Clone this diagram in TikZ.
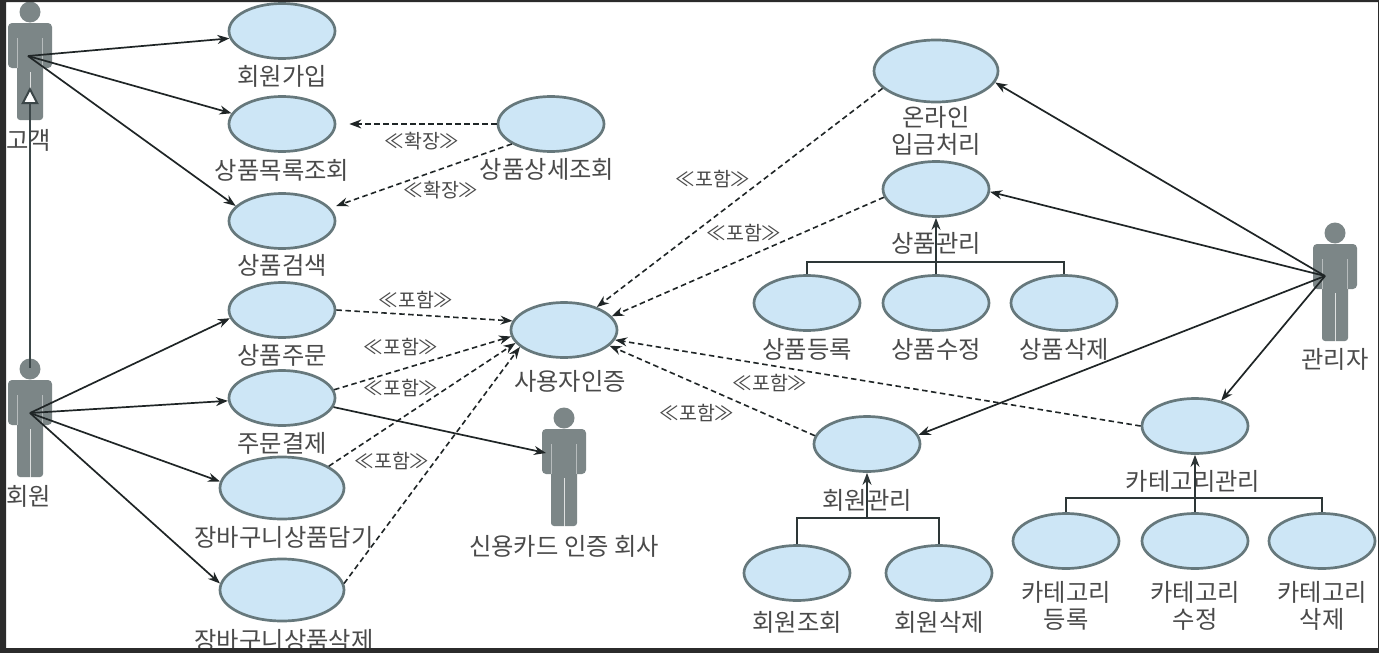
\documentclass[tikz,border=0pt]{standalone}
\usepackage{fontspec}
\setmainfont{Noto Sans CJK KR}
\usetikzlibrary{shapes.geometric,arrows.meta}
\definecolor{frameC}{HTML}{2B2B2B}
\definecolor{ucFill}{HTML}{CDE6F6}
\definecolor{ucLine}{HTML}{66787C}
\definecolor{actorC}{HTML}{7C8687}
\definecolor{txtC}{HTML}{4A4A4A}
\definecolor{lineC}{HTML}{1F2526}
\tikzset{
  uc/.style={ellipse,draw=ucLine,fill=ucFill,line width=2.7pt,minimum width=106pt,minimum height=55pt,inner sep=0pt},
  ucbig/.style={uc,minimum width=124pt,minimum height=62pt},
  lbl/.style={text=txtC,font=\fontsize{24.3}{28.5}\selectfont,inner sep=0pt,align=center},
  ster/.style={text=txtC,font=\fontsize{19.5}{22}\selectfont,inner sep=0pt},
  assoc/.style={draw=lineC,line width=1.7pt,-{Stealth[length=12pt,width=9pt]}},
  dep/.style={draw=lineC,line width=1.6pt,dash pattern=on 5.5pt off 3.5pt,-{Stealth[length=12pt,width=9pt]}},
  tree/.style={draw=lineC!80!ucLine,line width=1.9pt},
  gen/.style={draw=lineC!60!ucLine,line width=2.2pt,-{Triangle[open,fill=white,length=17pt,width=17pt,line width=2pt]}},
}
\newcommand{\umlactor}[3]{%
  \begin{scope}[shift={(#2,#3)}]
    \fill[actorC] (0,0) circle (10.5);
    \fill[actorC,rounded corners=4pt] (-22,11) rectangle (22,56);
    \fill[actorC,rounded corners=3pt] (-13,12) rectangle (13,108);
    \draw[white,opacity=.75,line width=1pt] (0,60) -- (0,109);
    \draw[white,opacity=.45,line width=.8pt] (-12.5,26) -- (-12.5,56) (12.5,26) -- (12.5,56);
  \end{scope}}
\begin{document}
\begin{tikzpicture}[x=1pt,y=-1pt]
\useasboundingbox (0,0) rectangle (1379,653);
\fill[white] (0,0) rectangle (1379,653);
% actors
\umlactor{cust}{30}{12}
\umlactor{memb}{30}{369}
\umlactor{card}{564}{418}
\umlactor{admin}{1335}{233}
\coordinate (custHub) at (28,56);
\coordinate (membHub) at (30,413);
\coordinate (membTop) at (30,368);
\coordinate (custGen) at (30,87);
\coordinate (cardHub) at (546,453);
\coordinate (adminHub) at (1325,276);
% use cases
\node[uc] (join) at (282,31) {};
\node[uc] (list) at (282,124) {};
\node[uc] (search) at (282,221) {};
\node[uc] (order) at (282,310) {};
\node[uc] (pay) at (282,398) {};
\node[ucbig] (cartadd) at (282,488) {};
\node[ucbig] (cartdel) at (282,590) {};
\node[uc] (detail) at (551,124) {};
\node[uc] (auth) at (564,330) {};
\node[ucbig] (online) at (936,71) {};
\node[uc] (prod) at (936,189) {};
\node[uc] (prodA) at (807,303) {};
\node[uc] (prodB) at (936,303) {};
\node[uc] (prodC) at (1064,303) {};
\node[uc] (mem) at (867,444) {};
\node[uc] (memA) at (797,573) {};
\node[uc] (memB) at (939,573) {};
\node[uc] (cat) at (1195,426) {};
\node[uc] (catA) at (1066,541) {};
\node[uc] (catB) at (1195,541) {};
\node[uc] (catC) at (1322,541) {};
% labels
\node[lbl] (t1) at (282,76) {회원가입};
\node[lbl] (t2) at (282,170) {상품목록조회};
\node[lbl] (t3) at (282,265) {상품검색};
\node[lbl] (t4) at (282,355) {상품주문};
\node[lbl] (t5) at (282,443) {주문결제};
\node[lbl] (t6) at (284,537) {장바구니상품담기};
\node[lbl] (t7) at (284,640) {장바구니상품삭제};
\node[lbl] (t8) at (547,169) {상품상세조회};
\node[lbl] (t9) at (570,381) {사용자인증};
\node[lbl] (t10) at (936,131) {온라인\\[-1pt]입금처리};
\node[lbl] (t11) at (936,243) {상품관리};
\node[lbl] (t12) at (807,349) {상품등록};
\node[lbl] (t13) at (936,349) {상품수정};
\node[lbl] (t14) at (1064,349) {상품삭제};
\node[lbl] (t15) at (867,500) {회원관리};
\node[lbl] (t16) at (797,622) {회원조회};
\node[lbl] (t17) at (939,622) {회원삭제};
\node[lbl] (t18) at (1193,481) {카테고리관리};
\node[lbl] (t19) at (1066,606) {카테고리\\[-1pt]등록};
\node[lbl] (t20) at (1195,606) {카테고리\\[-1pt]수정};
\node[lbl] (t21) at (1322,606) {카테고리\\[-1pt]삭제};
\node[lbl] (t22) at (29,140) {고객};
\node[lbl] (t23) at (29,496) {회원};
\node[lbl] (t24) at (564,546) {신용카드 인증 회사};
\node[lbl] (t25) at (1335,359) {관리자};
% stereotypes
\node[ster] (s1) at (422,141) {≪확장≫};
\node[ster] (s2) at (441,190) {≪확장≫};
\node[ster] (s3) at (416,300) {≪포함≫};
\node[ster] (s4) at (401,347) {≪포함≫};
\node[ster] (s5) at (401,388) {≪포함≫};
\node[ster] (s6) at (392,461) {≪포함≫};
\node[ster] (s7) at (713,179) {≪포함≫};
\node[ster] (s8) at (744,233) {≪포함≫};
\node[ster] (s9) at (770,383) {≪포함≫};
\node[ster] (s10) at (697,413) {≪포함≫};
% generalization
\draw[gen] (membTop) -- (custGen);
% associations
\draw[assoc] (custHub) -- (join.188);
\draw[assoc] (custHub) -- (list.168);
\draw[assoc] (custHub) -- (search.162);
\draw[assoc] (membHub) -- (order.189);
\draw[assoc] (membHub) -- (pay.183);
\draw[assoc] (membHub) -- (cartadd.174);
\draw[assoc] (membHub) -- (cartdel.174);
\draw[assoc] (pay.350) -- (cardHub);
\draw[assoc] (adminHub) -- (online.349);
\draw[assoc] (adminHub) -- (prod.357);
\draw[assoc] (adminHub) -- (mem.10);
\draw[assoc] (adminHub) -- (cat.44);
% dependencies
\draw[dep,shorten >=13pt] (detail.180) -- (list.0);
\draw[dep,shorten >=6pt] (detail.207) -- (search.15);
\draw[dep] (order.0) -- (auth.170);
\draw[dep] (pay.9) -- (auth.187);
\draw[dep] (cartadd.25) -- (auth.195);
\draw[dep] (cartdel.6) -- (auth.201);
\draw[dep] (online.198) -- (auth.35);
\draw[dep] (prod.189) -- (auth.16);
\draw[dep] (mem.171) -- (auth.341);
\draw[dep] (cat.180) -- (auth.349);
% trees
\coordinate (prodJ) at (prod |- 0,262);
\coordinate (memJ) at (mem |- 0,518);
\coordinate (catJ) at (cat |- 0,498);
\draw[tree] (prodA.north) |- (prodJ) -| (prodC.north);
\draw[tree,-{Stealth[length=12pt,width=9pt]}] (prodB.north) -- (prod.south);
\draw[tree] (memA.north) |- (memJ) -| (memB.north);
\draw[tree,-{Stealth[length=12pt,width=9pt]}] (memJ) -- (mem.south);
\draw[tree] (catA.north) |- (catJ) -| (catC.north);
\draw[tree,-{Stealth[length=12pt,width=9pt]}] (catB.north) -- (cat.south);
% screenshot frame
\fill[frameC,even odd rule] (0,0) rectangle (1379,653) (6,2) rectangle (1378,648);
\end{tikzpicture}
\end{document}
